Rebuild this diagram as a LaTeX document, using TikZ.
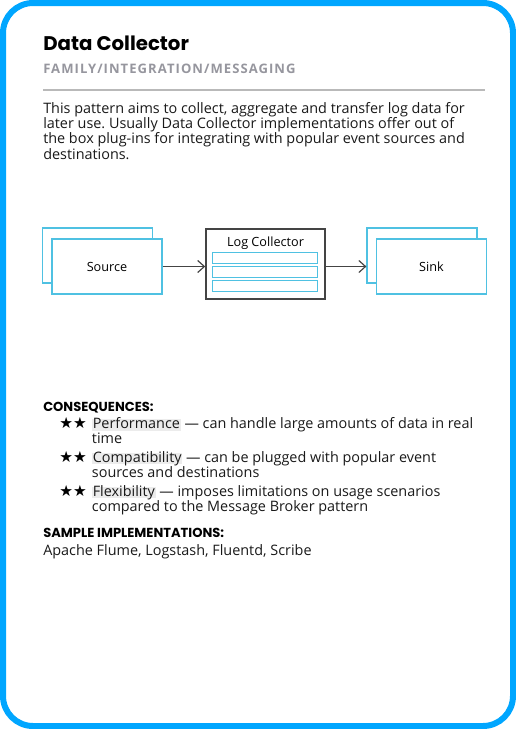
\documentclass[tikz,border=0pt]{standalone}
\usepackage{fontspec}
\setmainfont{Open Sans}
\newfontfamily\headfont{Poppins}
\newfontfamily\starfont{DejaVu Sans}
\usepackage{xcolor}
\definecolor{myblue}{RGB}{0,166,255}
\definecolor{mylightblue}{RGB}{79,193,226}
\definecolor{mygray}{RGB}{150,150,158}
\definecolor{myrule}{RGB}{185,185,185}
\definecolor{myshade}{RGB}{236,236,236}
\definecolor{mydark}{RGB}{68,68,68}
\definecolor{mytext}{RGB}{25,25,25}
\usetikzlibrary{positioning,arrows.meta,calc}
\newcommand{\myhl}[1]{{\setlength{\fboxsep}{0.6pt}\colorbox{myshade}{\rule[-0.7pt]{0pt}{7.1pt}\smash{#1}}}}
\frenchspacing

\begin{document}
\begin{tikzpicture}[
  x=0.75pt,
  y=-0.75pt,
  mybox/.style={
    draw=mylightblue,
    fill=white,
    line width=0.9pt,
    minimum width=82.5pt,
    minimum height=41.25pt,
    inner sep=0pt,
    font=\fontsize{9.5}{11}\selectfont
    },
  mybar/.style={
    draw=mylightblue,
    fill=white,
    line width=0.9pt,
    minimum width=78.5pt,
    minimum height=7.9pt,
    inner sep=0pt
    },
  myarrow/.style={
    draw=mydark,
    line width=0.9pt,
    -{Straight Barb[length=5pt,width=9pt]}
    },
  mytitle/.style={anchor=base west, inner sep=0pt, text=black,
    font=\fontsize{14.8}{18}\selectfont\headfont\bfseries},
  myhead/.style={anchor=base west, inner sep=0pt, text=black,
    font=\fontsize{9.8}{11}\selectfont\headfont\bfseries},
  mybody/.style={inner sep=0pt, align=left, text=mytext,
    font=\fontsize{10.8}{11.5}\selectfont},
  myitem/.style={mybody, anchor=north west,
    font=\fontsize{10.8}{11.25}\selectfont},
  mystar/.style={anchor=base west, inner sep=0pt, text=black,
    font=\fontsize{11.5}{13}\selectfont\starfont}
]
\useasboundingbox (0,0) rectangle (516,729);

% card
\draw[myblue, line width=4.5pt, rounded corners=22.5pt] (3,3) rectangle (513,726);

% heading
\node[mytitle] (title) at (43,50) {Data Collector};
\node[anchor=base west, inner sep=0pt, text=mygray,
  font=\fontsize{9.8}{12}\selectfont\bfseries\addfontfeatures{LetterSpace=8}]
  (family) at (43,73.3) {FAMILY/INTEGRATION/MESSAGING};
\draw[myrule, line width=1.5pt] (43,89.5) -- (485,89.5);

\node[mybody, anchor=north west] (desc) at (43,101.9)
  {This pattern aims to collect, aggregate and transfer log data for\\
   later use. Usually Data Collector implementations offer out of\\
   the box plug-ins for integrating with popular event sources and\\
   destinations.};

% diagram
\node[mybox] (src) at (107,266.5) {};
\node[mybox] (srcback) at ($(src.center)+(-9.5,-11)$) {};
\node[mybox] (src) at (107,266.5) {Source};

\node[draw=mydark, fill=white, line width=1.1pt, minimum width=89.25pt,
  minimum height=52.5pt, inner sep=0pt] (col) at (265.5,264) {};
\node[anchor=base, inner sep=0pt, font=\fontsize{9.5}{11}\selectfont]
  (collabel) at (265.5,246.7) {Log Collector};
\foreach \Valor [count=\Bari from 1] in {258,272,286}
  \node[mybar] (bar\Bari) at (265,\Valor) {};

\node[mybox] (sinkback) at ($(431.5,266.5)+(-9.5,-11)$) {};
\node[mybox] (sink) at (431.5,266.5) {Sink};

\draw[myarrow] (src.east) -- (src.east -| col.west);
\draw[myarrow] (col.east |- src.east) -- (sinkback.west |- src.east);

% consequences
\node[myhead] (conseq) at (43,411) {CONSEQUENCES:};
\foreach \Nombre/\Texto [count=\Itemi from 0] in {
  Performance/{can handle large amounts of data in real\\time},
  Compatibility/{can be plugged with popular event\\sources and destinations},
  Flexibility/{imposes limitations on usage scenarios\\compared to the Message Broker pattern}}
{
  \node[mystar] (star\Itemi) at (59,{428.3+34*\Itemi}) {★★};
  \node[myitem] (item\Itemi) at (91.7,{417.5+34*\Itemi}) {\myhl{\Nombre} — \Texto};
}

\node[myhead] (samplehead) at (43,537.7) {SAMPLE IMPLEMENTATIONS:};
\node[mybody, anchor=base west] (samples) at (43,555)
  {Apache Flume, Logstash, Fluentd, Scribe};

\end{tikzpicture}
\end{document}
